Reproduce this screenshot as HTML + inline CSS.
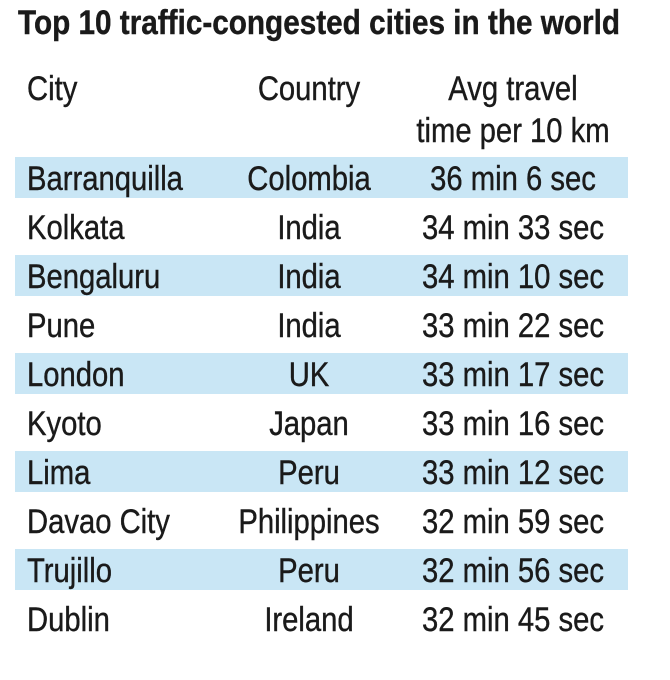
<!DOCTYPE html>
<html><head><style>
html,body{margin:0;padding:0;background:#fff;}
svg{display:block;}
text{font-family:"Liberation Sans",sans-serif;fill:#1a1a1a;font-size:34px;stroke:#1a1a1a;stroke-width:0.4;}
</style></head><body>
<svg width="670" height="680" viewBox="0 0 670 680">
<text x="18" y="34" font-weight="bold" font-size="33" stroke-width="0" textLength="602" lengthAdjust="spacingAndGlyphs">Top 10 traffic-congested cities in the world</text>
<g fill="#c9e6f5">
<rect x="15" y="157" width="613" height="41"/>
<rect x="15" y="255" width="613" height="41"/>
<rect x="15" y="353" width="613" height="41"/>
<rect x="15" y="451" width="613" height="41"/>
<rect x="15" y="549" width="613" height="41"/>
</g>
<g transform="scale(0.86,1)">
<text x="31.4" y="100">City</text>
<text x="359.3" y="100" text-anchor="middle">Country</text>
<text x="596.5" y="100" text-anchor="middle">Avg travel</text>
<text x="596.5" y="142" text-anchor="middle">time per 10 km</text>
<text x="31.4" y="190">Barranquilla</text><text x="359.3" y="190" text-anchor="middle">Colombia</text><text x="596.5" y="190" text-anchor="middle">36 min 6 sec</text>
<text x="31.4" y="239">Kolkata</text><text x="359.3" y="239" text-anchor="middle">India</text><text x="596.5" y="239" text-anchor="middle">34 min 33 sec</text>
<text x="31.4" y="288">Bengaluru</text><text x="359.3" y="288" text-anchor="middle">India</text><text x="596.5" y="288" text-anchor="middle">34 min 10 sec</text>
<text x="31.4" y="337">Pune</text><text x="359.3" y="337" text-anchor="middle">India</text><text x="596.5" y="337" text-anchor="middle">33 min 22 sec</text>
<text x="31.4" y="386">London</text><text x="359.3" y="386" text-anchor="middle">UK</text><text x="596.5" y="386" text-anchor="middle">33 min 17 sec</text>
<text x="31.4" y="435">Kyoto</text><text x="359.3" y="435" text-anchor="middle">Japan</text><text x="596.5" y="435" text-anchor="middle">33 min 16 sec</text>
<text x="31.4" y="484">Lima</text><text x="359.3" y="484" text-anchor="middle">Peru</text><text x="596.5" y="484" text-anchor="middle">33 min 12 sec</text>
<text x="31.4" y="533">Davao City</text><text x="359.3" y="533" text-anchor="middle">Philippines</text><text x="596.5" y="533" text-anchor="middle">32 min 59 sec</text>
<text x="31.4" y="582">Trujillo</text><text x="359.3" y="582" text-anchor="middle">Peru</text><text x="596.5" y="582" text-anchor="middle">32 min 56 sec</text>
<text x="31.4" y="631">Dublin</text><text x="359.3" y="631" text-anchor="middle">Ireland</text><text x="596.5" y="631" text-anchor="middle">32 min 45 sec</text>
</g>
</svg>
</body></html>
